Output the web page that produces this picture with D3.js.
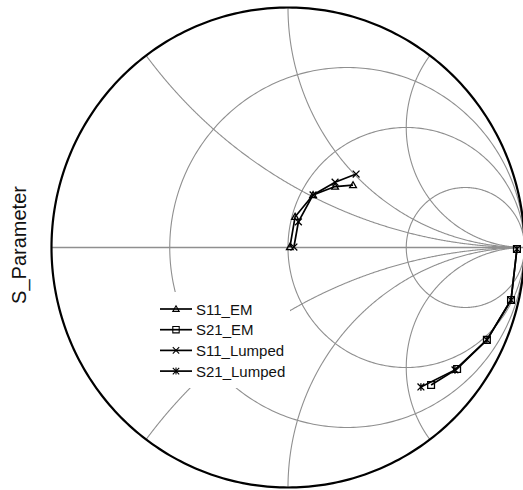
<!DOCTYPE html>
<html>
<head>
<meta charset="utf-8">
<script src="https://cdn.jsdelivr.net/npm/d3@7"></script>
<style>
  html, body { margin: 0; padding: 0; background: #fff; }
  svg { display: block; }
</style>
</head>
<body>
<svg id="chart" width="523" height="490"></svg>
<script>
// Reflection coefficients as [real, imaginary] pairs, one array per trace
const S11_EM     = [[0.008, 0.002], [0.030, 0.128], [0.106, 0.219], [0.199, 0.254], [0.275, 0.260]];
const S11_Lumped = [[0.025, 0.002], [0.044, 0.107], [0.106, 0.219], [0.199, 0.272], [0.288, 0.306]];
const S21_EM     = [[0.968, -0.006], [0.943, -0.219], [0.841, -0.385], [0.715, -0.506], [0.605, -0.573]];
const S21_Lumped = [[0.968, -0.006], [0.943, -0.219], [0.841, -0.385], [0.706, -0.510], [0.562, -0.581]];

const seriesNames   = ["S11_EM", "S21_EM", "S11_Lumped", "S21_Lumped"];
const seriesMarkers = ["triangle", "square", "cross", "asterisk"];
const seriesData    = [S11_EM, S21_EM, S11_Lumped, S21_Lumped];

// Smith chart grid: constant resistance circles and constant reactance arcs
const resistanceValues = [1 / 3, 1, 3];
const reactanceValues  = [0.5, 1, 2, -0.5, -1, -2];

const axisLabel = "S_Parameter";

const svg = d3.select("#chart");

// Gamma plane -> pixels
const x = d3.scaleLinear().domain([-1, 1]).range([51.5, 524.5]);
const y = d3.scaleLinear().domain([-1, 1]).range([487.5, 7.5]);

const line = d3.line().x(d => x(d[0])).y(d => y(d[1]));

// z = r + jx  ->  gamma = (z - 1) / (z + 1)
function gammaOf(r, xi) {
  const dr = (r + 1) * (r + 1) + xi * xi;
  return [((r * r - 1) + xi * xi) / dr, (2 * xi) / dr];
}

const grid = svg.append("g").attr("fill", "none").attr("stroke", "#8f8f8f").attr("stroke-width", 1.1);

// resistance circles: centre r/(r+1), radius 1/(r+1)
resistanceValues.forEach(r => {
  const c = r / (r + 1), rad = 1 / (r + 1);
  const pts = d3.range(0, 361, 1).map(a => {
    const t = a * Math.PI / 180;
    return [c + rad * Math.cos(t), rad * Math.sin(t)];
  });
  grid.append("path").attr("d", line(pts));
});

// reactance arcs from the rim to the open-circuit point
reactanceValues.forEach(xi => {
  const pts = d3.range(0, 1, 0.002).map(t => gammaOf(t / (1 - t), xi));
  pts.push([1, 0]);
  grid.append("path").attr("d", line(pts));
});

// real axis
grid.append("path").attr("stroke-width", 1.6).attr("d", line([[-1, 0], [1, 0]]));

// unit circle
const rim = d3.range(0, 361, 1).map(a => {
  const t = a * Math.PI / 180;
  return [Math.cos(t), Math.sin(t)];
});
svg.append("path").attr("d", line(rim)).attr("fill", "none")
  .attr("stroke", "#000").attr("stroke-width", 2.2);

// marker shapes drawn around (0,0)
function markerPath(kind, s) {
  switch (kind) {
    case "triangle": return `M0,${-s} L${s * 1.0},${s * 0.75} L${-s * 1.0},${s * 0.75} Z`;
    case "square":   return `M${-s},${-s} H${s} V${s} H${-s} Z`;
    case "cross":    return `M${-s},${-s} L${s},${s} M${-s},${s} L${s},${-s}`;
    case "asterisk": return `M${-s},${-s} L${s},${s} M${-s},${s} L${s},${-s} M0,${-s * 1.1} V${s * 1.1}`;
  }
}

const traces = svg.append("g");
seriesData.forEach((data, i) => {
  const g = traces.append("g");
  g.append("path").attr("d", line(data)).attr("fill", "none")
    .attr("stroke", "#000").attr("stroke-width", 1.7);
  g.selectAll("path.m").data(data).join("path").attr("class", "m")
    .attr("transform", d => `translate(${x(d[0])},${y(d[1])})`)
    .attr("d", markerPath(seriesMarkers[i], 3.4))
    .attr("fill", "none").attr("stroke", "#000").attr("stroke-width", 1.3);
});

// legend
const legend = svg.append("g");
legend.append("rect").attr("x", 157).attr("y", 292).attr("width", 133).attr("height", 96)
  .attr("fill", "#fff");
seriesNames.forEach((name, i) => {
  const cy = 309 + i * 20.7;
  legend.append("line").attr("x1", 160).attr("x2", 192).attr("y1", cy).attr("y2", cy)
    .attr("stroke", "#000").attr("stroke-width", 1.7);
  legend.append("path").attr("transform", `translate(176,${cy})`)
    .attr("d", markerPath(seriesMarkers[i], 3.2))
    .attr("fill", "none").attr("stroke", "#000").attr("stroke-width", 1.1);
  legend.append("text").attr("x", 196).attr("y", cy + 5.5)
    .attr("font-family", "Liberation Sans, Arial, sans-serif").attr("font-size", 15)
    .attr("fill", "#111").text(name);
});

// axis title
svg.append("text")
  .attr("transform", "translate(26,245) rotate(-90)")
  .attr("text-anchor", "middle")
  .attr("font-family", "Liberation Sans, Arial, sans-serif").attr("font-size", 20)
  .attr("fill", "#111").text(axisLabel);
</script>
</body>
</html>
